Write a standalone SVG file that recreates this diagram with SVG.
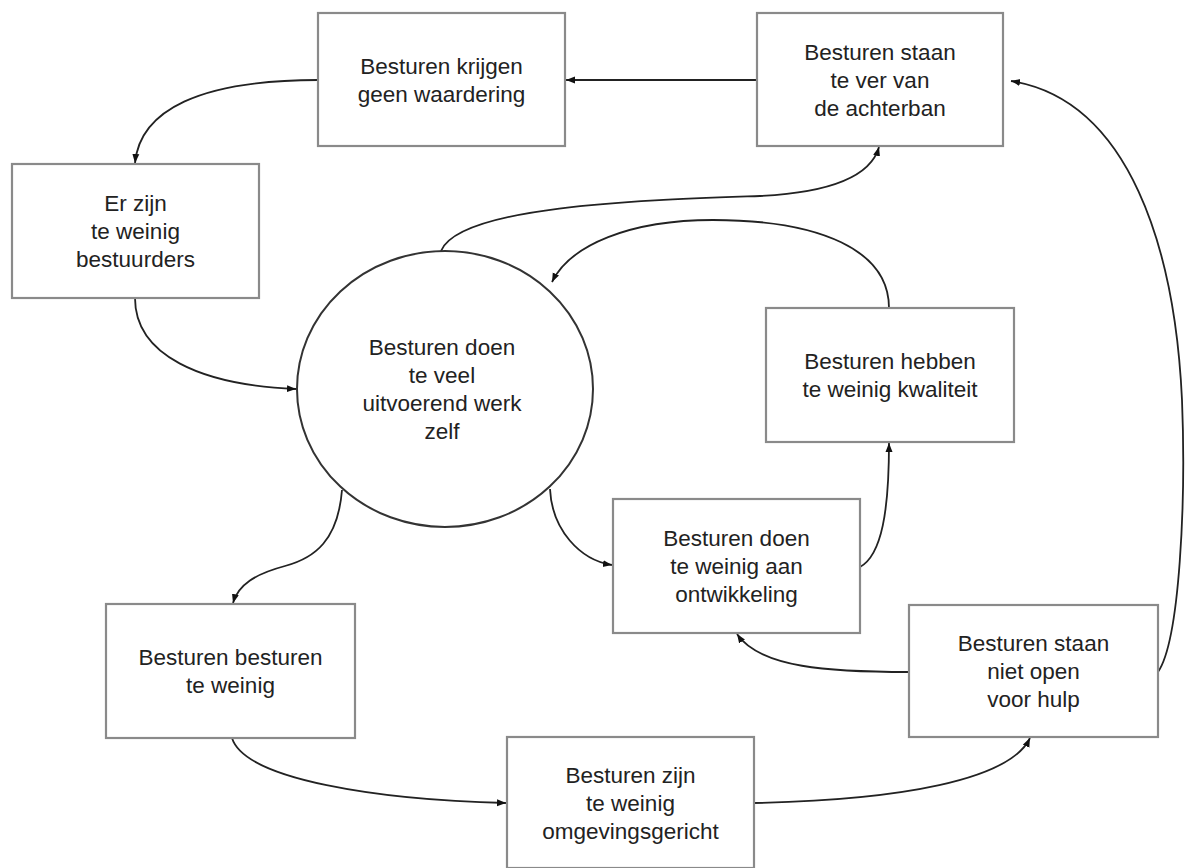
<svg xmlns="http://www.w3.org/2000/svg" width="1186" height="868" viewBox="0 0 1186 868">
<style>
.box{fill:#fff;stroke:#8a8a8a;stroke-width:2.2}
.node{fill:#fff;stroke:#333;stroke-width:2}
.t{font-family:"Liberation Sans",Arial,sans-serif;font-size:22.5px;fill:#222;text-anchor:middle}
.c{fill:none;stroke:#222;stroke-width:1.8}
</style>
<defs>
<marker id="ah" markerUnits="userSpaceOnUse" markerWidth="10" markerHeight="8" refX="9" refY="4" orient="auto">
<path d="M0,0.5 L9,4 L0,7.5 z" fill="#111"/>
</marker>
</defs>
<rect width="1186" height="868" fill="#fff"/>
<g id="connectors">
<path class="c" marker-end="url(#ah)" d="M757,80 L566,80"/>
<path class="c" marker-end="url(#ah)" d="M318,80 C200,80 140,110 135,163"/>
<path class="c" marker-end="url(#ah)" d="M135,298 C135,355 200,385 296,389"/>
<path class="c" marker-end="url(#ah)" d="M441,251 C460,205 650,200 760,196 C840,192 872,172 879,147"/>
<path class="c" marker-end="url(#ah)" d="M889,308 C889,250 820,220 713,220 C630,220 570,245 552,282"/>
<path class="c" marker-end="url(#ah)" d="M860,567 C882,555 889,510 889,443"/>
<path class="c" marker-end="url(#ah)" d="M909,672 C830,672 760,668 737,634"/>
<path class="c" marker-end="url(#ah)" d="M1158,672 C1180,640 1186,500 1182,400 C1175,250 1130,100 1011,81"/>
<path class="c" marker-end="url(#ah)" d="M754,803 C900,800 1010,780 1030,738"/>
<path class="c" marker-end="url(#ah)" d="M232,738 C245,780 380,800 506,803"/>
<path class="c" marker-end="url(#ah)" d="M342,490 C338,540 315,558 285,566 C255,574 238,585 233,603"/>
<path class="c" marker-end="url(#ah)" d="M550,489 C552,530 580,560 612,565"/>
</g>
<g id="n1"><rect class="box" x="318" y="13" width="247" height="133"/>
<text class="t" x="441.5" y="74">Besturen krijgen</text><text class="t" x="441.5" y="102">geen waardering</text></g>
<g id="n2"><rect class="box" x="757" y="13" width="246" height="133"/>
<text class="t" x="880" y="60">Besturen staan</text><text class="t" x="880" y="88">te ver van</text><text class="t" x="880" y="116">de achterban</text></g>
<g id="n3"><rect class="box" x="12" y="164" width="247" height="134"/>
<text class="t" x="135.5" y="211">Er zijn</text><text class="t" x="135.5" y="239">te weinig</text><text class="t" x="135.5" y="267">bestuurders</text></g>
<g id="n4"><ellipse class="node" cx="445" cy="389" rx="148" ry="138"/>
<text class="t" x="442" y="355">Besturen doen</text><text class="t" x="442" y="383">te veel</text><text class="t" x="442" y="411">uitvoerend werk</text><text class="t" x="442" y="439">zelf</text></g>
<g id="n5"><rect class="box" x="766" y="308" width="248" height="134"/>
<text class="t" x="890" y="369">Besturen hebben</text><text class="t" x="890" y="397">te weinig kwaliteit</text></g>
<g id="n6"><rect class="box" x="613" y="499" width="247" height="134"/>
<text class="t" x="736.5" y="546">Besturen doen</text><text class="t" x="736.5" y="574">te weinig aan</text><text class="t" x="736.5" y="602">ontwikkeling</text></g>
<g id="n7"><rect class="box" x="106" y="604" width="249" height="134"/>
<text class="t" x="230.5" y="665">Besturen besturen</text><text class="t" x="230.5" y="693">te weinig</text></g>
<g id="n8"><rect class="box" x="909" y="605" width="249" height="132"/>
<text class="t" x="1033.5" y="651">Besturen staan</text><text class="t" x="1033.5" y="679">niet open</text><text class="t" x="1033.5" y="707">voor hulp</text></g>
<g id="n9"><rect class="box" x="507" y="737" width="247" height="131"/>
<text class="t" x="630.5" y="783">Besturen zijn</text><text class="t" x="630.5" y="811">te weinig</text><text class="t" x="630.5" y="839">omgevingsgericht</text></g>
</svg>
